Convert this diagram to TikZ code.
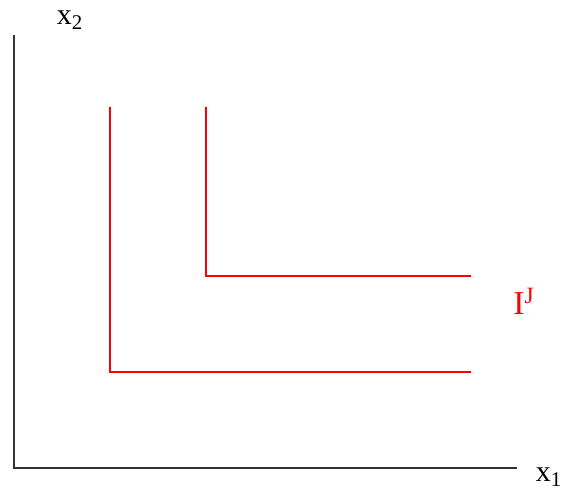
\documentclass[tikz,border=0pt]{standalone}
\usepackage{fontspec}
\setmainfont{Liberation Serif}
\usetikzlibrary{positioning}

\begin{document}
\begin{tikzpicture}[x=0.02cm, y=-0.02cm,
    axis/.style={draw=black!80, line width=1.4pt},
    indiff/.style={draw=red, line width=1.2pt},
    axislabel/.style={font=\fontsize{17}{20}\selectfont, inner sep=0pt},
    curvelabel/.style={text=red, font=\fontsize{19}{22}\selectfont, inner sep=0pt}]

\useasboundingbox (0,0) rectangle (566,496);

% axes
\coordinate (origin) at (14,468);
\coordinate (ytop) at (14,35);
\coordinate (xend) at (517,468);
\draw[axis] (ytop) -- (origin) -- (xend);

\node[axislabel] (x2) at (70,20) {x\textsubscript{2}};
\node[axislabel] (x1) at (549,477) {x\textsubscript{1}};

% outer curve
\coordinate (outertop) at (110,107);
\coordinate (outercorner) at (110,372);
\coordinate (outerend) at (471,372);
\draw[indiff] (outertop) -- (outercorner) -- (outerend);

% inner curve
\coordinate (innertop) at (206,107);
\coordinate (innercorner) at (206,276);
\coordinate (innerend) at (471,276);
\draw[indiff] (innertop) -- (innercorner) -- (innerend);

\node[curvelabel] (IJ) at (524,301) {I\textsuperscript{J}};
\end{tikzpicture}
\end{document}
